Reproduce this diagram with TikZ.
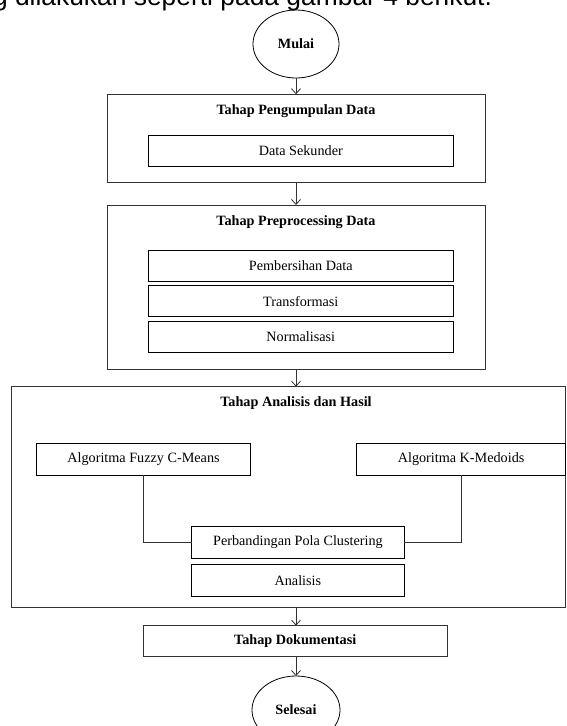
\documentclass[tikz,border=0pt]{standalone}
\usepackage{fontspec}
\setmainfont{Liberation Serif}
\newfontfamily\topfont{Liberation Sans}
\usetikzlibrary{arrows.meta,shapes.geometric}
\begin{document}
\begin{tikzpicture}[x=1pt,y=-1pt,
  every node/.style={inner sep=0pt,outer sep=0pt},
  txt/.style={font=\fontsize{14.2}{16}\selectfont},
  ttl/.style={font=\fontsize{14.2}{16}\selectfont\bfseries},
  outerbox/.style={draw=black!80,line width=0.9pt},
  innerbox/.style={draw=black,line width=0.8pt,txt},
  term/.style={ellipse,draw=black,line width=0.8pt,ttl,minimum width=86pt,minimum height=68pt},
  link/.style={draw=black!80,line width=0.9pt},
  arr/.style={link,-{Straight Barb[length=5pt,width=9pt,line width=0.8pt]}}]
\useasboundingbox (0,0) rectangle (567,726);
\clip (0,0) rectangle (567,726);
% partially visible text line at the top
\node[anchor=base east,font=\topfont\fontsize{26.4}{30}\selectfont] (toptext) at (492,5.5) {yang dilakukan seperti pada gambar 4 berikut.};
% start
\node[term] (mulai) at (296,44) {Mulai};
% stage 1
\node[outerbox,minimum width=378pt,minimum height=88pt] (b1) at (296,138.3) {};
\node[ttl] (t1) at (296,110.7) {Tahap Pengumpulan Data};
\node[innerbox,minimum width=305pt,minimum height=31.7pt] (ds) at (300.8,150.9) {Data Sekunder};
% stage 2
\node[outerbox,minimum width=378pt,minimum height=164pt] (b2) at (296,287) {};
\node[ttl] (t2) at (296,221.7) {Tahap Preprocessing Data};
\node[innerbox,minimum width=305pt,minimum height=31pt] (p1) at (300.8,265.5) {Pembersihan Data};
\node[innerbox,minimum width=305pt,minimum height=31pt] (p2) at (300.8,301.2) {Transformasi};
\node[innerbox,minimum width=305pt,minimum height=31.4pt] (p3) at (300.8,337) {Normalisasi};
% stage 3
\node[outerbox,minimum width=553.8pt,minimum height=221pt] (b3) at (288.6,497.2) {};
\node[ttl] (t3) at (296,403) {Tahap Analisis dan Hasil};
\node[innerbox,minimum width=213.6pt,minimum height=31.7pt] (fcm) at (143.5,459.2) {Algoritma Fuzzy C-Means};
\node[innerbox,minimum width=208.8pt,minimum height=31.7pt] (km) at (461.1,459.2) {Algoritma K-Medoids};
\node[innerbox,minimum width=212.8pt,minimum height=31.6pt] (pb) at (297.9,542.5) {Perbandingan Pola Clustering};
\node[innerbox,minimum width=212.8pt,minimum height=32.4pt] (an) at (297.9,580.5) {Analisis};
% stage 4
\node[outerbox,ttl,minimum width=303.7pt,minimum height=31pt] (dok) at (295.2,641.2) {Tahap Dokumentasi};
% end
\node[term,minimum width=88pt] (selesai) at (296,710) {Selesai};
% connectors
\draw[arr] (mulai.south) -- (mulai.south |- b1.north);
\draw[arr] (b1.south) -- (b2.north);
\draw[arr] (b2.south) -- (b2.south |- b3.north);
\draw[arr] (b2.south |- b3.south) -- (b2.south |- dok.north);
\draw[arr] (b2.south |- dok.south) -- (selesai.north);
\draw[link] (fcm.south) |- (pb.west);
\draw[link] (km.south) |- (pb.east);
\end{tikzpicture}
\end{document}
